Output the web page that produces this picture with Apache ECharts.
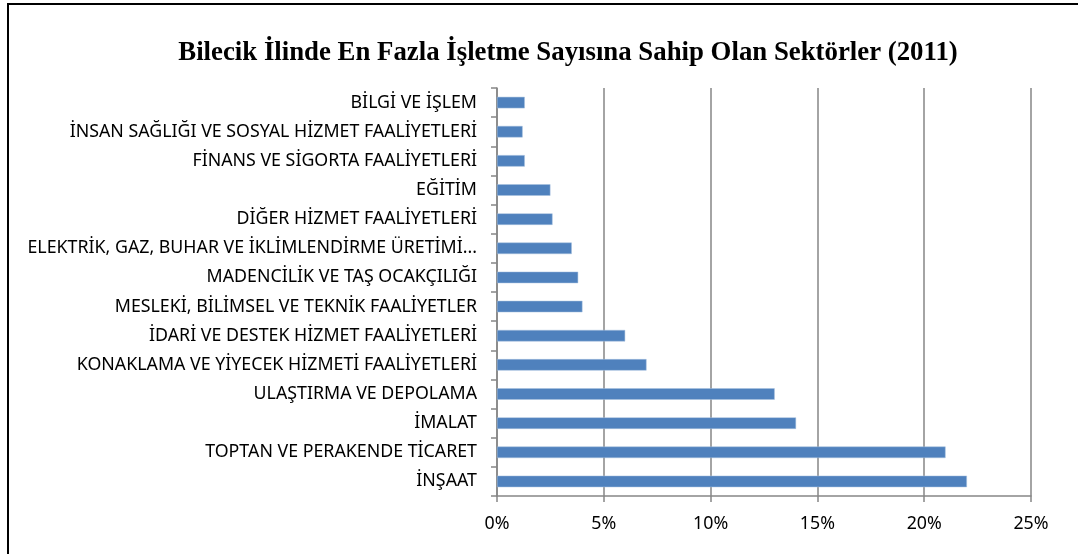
<!DOCTYPE html>
<html>
<head>
<meta charset="utf-8">
<script src="https://cdn.jsdelivr.net/npm/echarts@6/dist/echarts.min.js"></script>
<style>
  html, body { margin: 0; padding: 0; background: #fff; overflow: hidden; }
  #frame {
    position: absolute; left: 7px; top: 3px;
    width: 1200px; height: 700px;
    border-left: 2px solid #000; border-top: 2px solid #000;
  }
  #chart { position: absolute; left: 0; top: 0; width: 1078px; height: 554px; }
</style>
</head>
<body>
<div id="frame"></div>
<div id="chart"></div>
<script>
// Sectors, listed top to bottom as in the chart
const sectors = [
  'BİLGİ VE İŞLEM',
  'İNSAN SAĞLIĞI VE SOSYAL HİZMET FAALİYETLERİ',
  'FİNANS VE SİGORTA FAALİYETLERİ',
  'EĞİTİM',
  'DİĞER HİZMET FAALİYETLERİ',
  'ELEKTRİK, GAZ, BUHAR VE İKLİMLENDİRME ÜRETİMİ...',
  'MADENCİLİK VE TAŞ OCAKÇILIĞI',
  'MESLEKİ, BİLİMSEL VE TEKNİK FAALİYETLER',
  'İDARİ VE DESTEK HİZMET FAALİYETLERİ',
  'KONAKLAMA VE YİYECEK HİZMETİ FAALİYETLERİ',
  'ULAŞTIRMA VE DEPOLAMA',
  'İMALAT',
  'TOPTAN VE PERAKENDE TİCARET',
  'İNŞAAT'
]
// share of businesses (%)
const shares = [1.3, 1.2, 1.3, 2.5, 2.6, 3.5, 3.8, 4.0, 6.0, 7.0, 13.0, 14.0, 21.0, 22.0]
const xTicks = [0, 5, 10, 15, 20, 25]

const chart = echarts.init(document.getElementById('chart'))

chart.setOption({
  animation: false,
  title: {
    text: 'Bilecik İlinde En Fazla İşletme Sayısına Sahip Olan Sektörler (2011)',
    left: 563,
    textAlign: 'center',
    top: 35,
    textStyle: {
      fontFamily: 'Liberation Serif',
      fontWeight: 'bold',
      fontSize: 26.8,
      color: '#000'
    }
  },
  grid: { left: 497, right: 47, top: 88, bottom: 58 },
  xAxis: {
    type: 'value',
    min: xTicks[0],
    max: xTicks[xTicks.length - 1],
    interval: 5,
    axisLine: { show: true, lineStyle: { color: '#868686', width: 1.5 } },
    axisTick: { show: true, length: 6, lineStyle: { color: '#868686', width: 1.5 } },
    splitLine: { show: true, lineStyle: { color: '#868686', width: 1.5 } },
    axisLabel: {
      formatter: '{value}%',
      margin: 19,
      fontFamily: 'Noto Sans',
      fontSize: 17.8,
      color: '#000'
    }
  },
  yAxis: {
    type: 'category',
    inverse: true,
    data: sectors,
    axisLine: { show: true, lineStyle: { color: '#868686', width: 1.5 } },
    axisTick: { show: true, length: 6, lineStyle: { color: '#868686', width: 1.5 } },
    axisLabel: {
      margin: 20,
      fontFamily: 'Noto Sans',
      fontSize: 17.8,
      color: '#000'
    }
  },
  series: [{
    type: 'bar',
    data: shares,
    barWidth: 11.5,
    itemStyle: { color: '#4F81BD', borderColor: '#A7C0DE', borderWidth: 0.5 }
  }]
})
</script>
</body>
</html>
